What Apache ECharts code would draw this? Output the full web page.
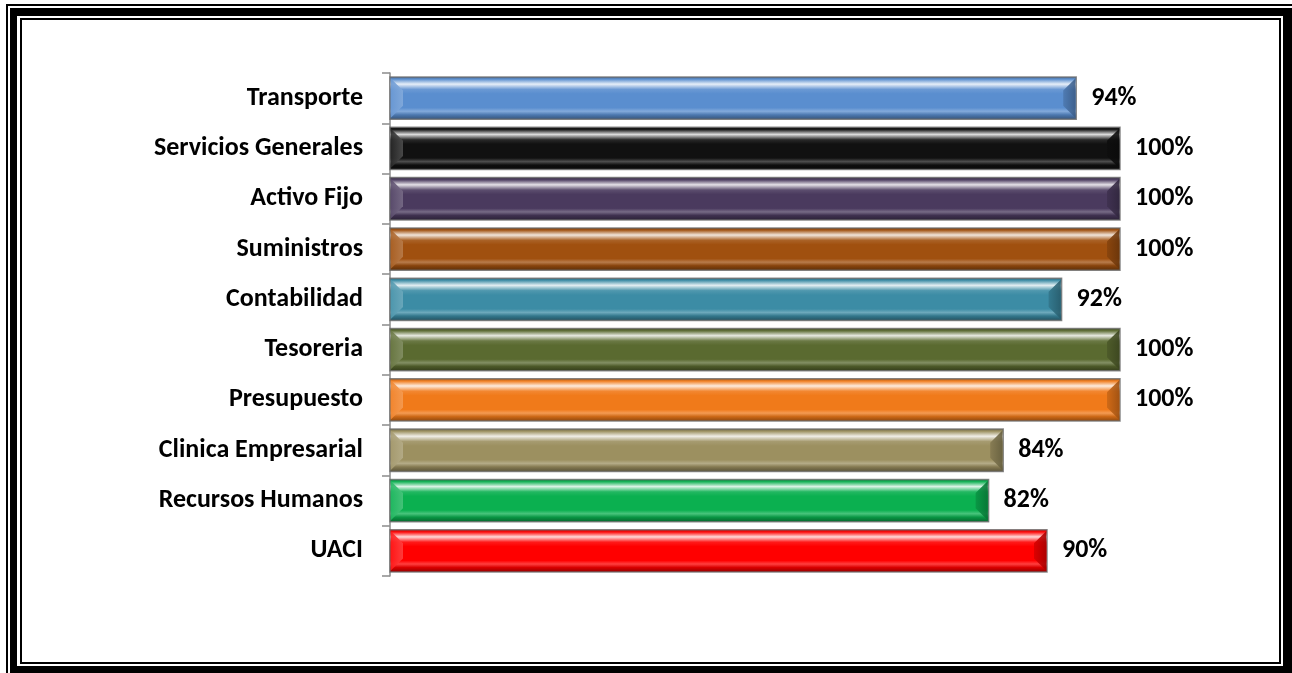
<!DOCTYPE html>
<html>
<head>
<meta charset="utf-8">
<script src="https://cdn.jsdelivr.net/npm/echarts@6/dist/echarts.min.js"></script>
<style>
html,body{margin:0;padding:0;background:#fff;}
#wrap{position:relative;width:1292px;height:673px;overflow:hidden;background:#fff;}
.f{position:absolute;}
#chart{position:absolute;left:0;top:0;width:1292px;height:673px;}
</style>
</head>
<body>
<div id="wrap">
  <div class="f" style="left:6px;top:4px;width:1400px;height:800px;background:#000"></div>
  <div class="f" style="left:8px;top:6px;width:1400px;height:800px;background:#fff"></div>
  <div class="f" style="left:10px;top:8px;width:1400px;height:800px;background:#000"></div>
  <div class="f" style="left:17px;top:16px;width:1266px;height:650px;background:#fff"></div>
  <div class="f" style="left:20px;top:18px;width:1261px;height:646px;background:#000"></div>
  <div class="f" style="left:22px;top:20px;width:1257px;height:642px;background:#fff"></div>
  <div id="chart"></div>
</div>
<script>
var categories = ["Transporte","Servicios Generales","Activo Fijo","Suministros","Contabilidad","Tesoreria","Presupuesto","Clinica Empresarial","Recursos Humanos","UACI"];
var values = [94,100,100,100,92,100,100,84,82,90];
var colors = ["#5a8ecf","#111111","#4a3a5e","#a0500f","#3c8ca5","#5a6a30","#f07a1a","#9c9060","#0bb050","#ff0000"];

function mix(hex, p){
  var r=parseInt(hex.substr(1,2),16), g=parseInt(hex.substr(3,2),16), b=parseInt(hex.substr(5,2),16);
  var t = p>0?255:0, a=Math.abs(p);
  r=Math.round(r+(t-r)*a); g=Math.round(g+(t-g)*a); b=Math.round(b+(t-b)*a);
  return 'rgb('+r+','+g+','+b+')';
}
function barGrad(c){
  return new echarts.graphic.LinearGradient(0,0,0,1,[
    {offset:0,color:mix(c,-0.35)},
    {offset:0.07,color:mix(c,0.05)},
    {offset:0.18,color:mix(c,0.85)},
    {offset:0.3,color:mix(c,0.1)},
    {offset:0.4,color:c},
    {offset:0.72,color:c},
    {offset:0.8,color:mix(c,0.25)},
    {offset:0.88,color:mix(c,-0.15)},
    {offset:1,color:mix(c,-0.45)}
  ]);
}
var chart = echarts.init(document.getElementById('chart'), null, {renderer:'canvas'});
var FONT = 'Carlito, Calibri, Lato, "Open Sans", sans-serif';
chart.setOption({
  backgroundColor:'transparent',
  animation:false,
  grid:{left:390,right:172,top:73,bottom:97,containLabel:false},
  xAxis:{type:'value',min:0,max:100,show:false},
  yAxis:{
    type:'category',inverse:true,data:categories,
    axisLine:{show:true,lineStyle:{color:'#8c8c8c',width:1.5}},
    axisTick:{show:true,length:8,lineStyle:{color:'#8c8c8c',width:1.5}},
    axisLabel:{margin:27,color:'#000',fontWeight:'bold',fontSize:26,fontFamily:FONT},
    splitLine:{show:false}
  },
  series:[{
    type:'custom',
    encode:{x:0,y:1},
    data:values.map(function(v,i){return [v,i];}),
    renderItem:function(params,api){
      var i=api.value(1), v=api.value(0);
      var p0=api.coord([0,i]), p1=api.coord([v,i]);
      var band=api.size([0,1])[1];
      var h=band*0.84, y0=p0[1]-h/2, y1=y0+h, x0=p0[0], x1=p1[0];
      var c=colors[i], b=13;
      return {type:'group',children:[
        {type:'rect',shape:{x:x0,y:y0,width:x1-x0,height:h},
         style:{fill:barGrad(c),stroke:'rgba(110,110,110,0.8)',lineWidth:1.5}},
        {type:'polygon',shape:{points:[[x0+0.8,y0+1.5],[x0+b,y0+h*0.32],[x0+b,y0+h*0.68],[x0+0.8,y1-1.5]]},
         style:{fill:new echarts.graphic.LinearGradient(0,0,1,0,[{offset:0,color:mix(c,0.1)},{offset:1,color:mix(c,0.25)}]),opacity:0.9}},
        {type:'polygon',shape:{points:[[x1-0.8,y0+1.5],[x1-b,y0+h*0.32],[x1-b,y0+h*0.68],[x1-0.8,y1-1.5]]},
         style:{fill:new echarts.graphic.LinearGradient(0,0,1,0,[{offset:0,color:mix(c,-0.15)},{offset:1,color:mix(c,-0.35)}]),opacity:0.9}},
        {type:'text',style:{x:x1+15,y:p0[1],text:Math.round(v)+'%',fill:'#000',
          font:'bold 26px '+FONT,textVerticalAlign:'middle',textAlign:'left'}}
      ]};
    }
  }]
});
</script>
</body>
</html>
